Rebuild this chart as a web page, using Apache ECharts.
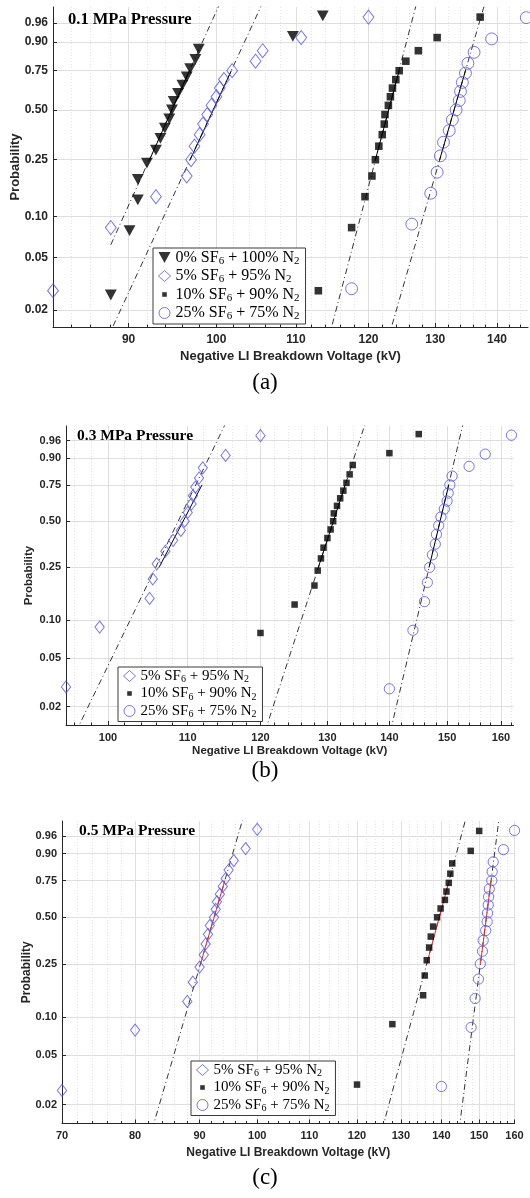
<!DOCTYPE html>
<html>
<head>
<meta charset="utf-8">
<script src="https://cdn.jsdelivr.net/npm/echarts@6/dist/echarts.min.js"></script>
<style>
  html, body { margin: 0; background: #fff; }
  #chart { width: 530px; height: 1198px; }
</style>
</head>
<body>
<div id="chart"></div>
<script>
// plotting positions
const P17 = [0.029, 0.088, 0.147, 0.206, 0.265, 0.324, 0.382, 0.441, 0.500, 0.559, 0.618, 0.676, 0.735, 0.794, 0.853, 0.912, 0.971];
const P18 = [0.028, 0.083, 0.139, 0.194, 0.250, 0.306, 0.361, 0.417, 0.472, 0.528, 0.583, 0.639, 0.694, 0.750, 0.806, 0.861, 0.917, 0.972];
const P19 = [0.026, 0.079, 0.132, 0.184, 0.237, 0.289, 0.342, 0.395, 0.447, 0.500, 0.553, 0.605, 0.658, 0.711, 0.763, 0.816, 0.868, 0.921, 0.974];
const P_TICKS = [0.02, 0.05, 0.10, 0.25, 0.50, 0.75, 0.90, 0.96];

const NAMES = ['0% SF6 + 100% N2', '5% SF6 + 95% N2', '10% SF6 + 90% N2', '25% SF6 + 75% N2'];

// (a) 0.1 MPa, breakdown voltages in kV
const A_0 = [88.1, 90.1, 91.0, 91.0, 92.0, 93.0, 93.5, 94.0, 94.5, 94.8, 95.0, 95.5, 96.0, 96.5, 96.9, 97.5, 97.9, 109.6, 113.6];
const A_5 = [82.2, 88.1, 93.0, 96.5, 97.0, 97.4, 98.0, 98.4, 98.9, 99.4, 100.0, 100.4, 100.9, 101.9, 104.8, 105.7, 110.7, 120.0];
const A_10 = [113.0, 117.6, 119.5, 120.5, 121.0, 121.5, 122.0, 122.3, 122.4, 122.9, 123.2, 123.5, 124.0, 124.5, 125.5, 127.4, 130.3, 137.2];
const A_25 = [117.6, 126.4, 129.3, 130.3, 130.8, 131.3, 132.2, 132.7, 133.3, 133.8, 134.0, 134.3, 134.8, 135.2, 136.2, 139.1, 145.0];
// fitted reference lines: [kV, prob, kV, prob]; solid part: kV at 0.25 and 0.75
const A_LINES = [[88.1, 0.062, 100.45, 0.99], [87.2, 0.01, 105.7, 0.99], [114.0, 0.01, 127.15, 0.99], [122.4, 0.01, 138.0, 0.99]];
const A_SOLID = [[92.3, 96.8], [96.9, 101.8], [121.0, 124.5], [130.7, 134.8]];

// (b) 0.3 MPa
const B_5 = [95.1, 99.0, 105.1, 105.5, 106.0, 107.1, 108.1, 109.1, 109.6, 110.0, 110.5, 110.7, 111.0, 111.5, 112.0, 115.1, 120.0];
const B_10 = [113.0, 120.0, 125.0, 128.0, 128.5, 129.0, 129.4, 130.0, 130.5, 130.9, 131.0, 131.5, 132.0, 132.5, 133.0, 133.5, 134.0, 140.0, 145.0];
const B_25 = [140.0, 144.0, 146.0, 146.5, 146.9, 147.4, 147.9, 148.1, 148.5, 148.9, 149.5, 150.0, 150.2, 150.5, 150.9, 154.0, 157.0, 162.0];
const B_LINES = [[95.6, 0.01, 115.2, 0.99], [120.1, 0.01, 136.1, 0.99], [139.7, 0.01, 152.97, 0.99]];
const B_SOLID = [[106.3, 111.9], [128.6, 132.8], [146.8, 150.3]];

// (c) 0.5 MPa
const C_5 = [70.0, 80.0, 88.0, 88.9, 90.0, 90.7, 91.0, 91.4, 91.7, 92.4, 92.7, 92.9, 93.4, 93.9, 94.4, 94.9, 95.8, 97.9, 100.0];
const C_10 = [120.0, 128.0, 135.4, 135.8, 136.3, 136.9, 137.3, 137.9, 138.9, 139.8, 140.9, 141.3, 141.9, 142.3, 142.8, 147.7, 150.0];
const C_25 = [140.0, 147.8, 148.9, 149.8, 150.3, 150.9, 151.1, 151.8, 152.2, 152.3, 152.5, 152.6, 152.8, 153.5, 153.6, 153.9, 156.8, 160.0];
const C_LINES = [[82.0, 0.01, 97.5, 0.99], [124.9, 0.01, 146.5, 0.99], [144.2, 0.01, 155.6, 0.99]];
const C_SOLID = [[90.15, 94.25], [136.3, 142.0], [150.35, 153.3]];

const A_TICKS = [90, 100, 110, 120, 130, 140];
const B_TICKS = [100, 110, 120, 130, 140, 150, 160];
const C_TICKS = [70, 80, 90, 100, 110, 120, 130, 140, 150, 160];

const BLUE = '#5656d8';
const INK = '#262626';
const SERIF = 'Liberation Serif';
const SANS = 'Liberation Sans';

// weibull probability paper
const wOf = p => Math.log(-Math.log(1 - p));
const pOf = w => 1 - Math.exp(-Math.exp(w));

function marks(s) {
  return {
    tri: {symbol: 'path://M0,0L10,0L5,9Z', symbolSize: [11 * s, 10 * s], itemStyle: {color: '#000'}},
    dia: {symbol: 'diamond', symbolSize: [10 * s, 13 * s], itemStyle: {color: 'rgba(0,0,0,0)', borderColor: BLUE, borderWidth: 1}},
    sq: {symbol: 'rect', symbolSize: 7 * s, itemStyle: {color: '#000'}},
    cir: {symbol: 'circle', symbolSize: 11 * s, itemStyle: {color: 'rgba(0,0,0,0)', borderColor: BLUE, borderWidth: 1}}
  };
}
const ICON = {
  tri: {icon: 'path://M0,0L10,0L5,9Z', itemStyle: {color: '#000', borderWidth: 0}},
  dia: {icon: 'diamond', itemStyle: {color: 'rgba(0,0,0,0)', borderColor: BLUE, borderWidth: 1}},
  sq: {icon: 'path://M0,0M12,12M3.5,3.5h5v5h-5z', itemStyle: {color: '#000', borderWidth: 0}},
  cir: {icon: 'circle', itemStyle: {color: 'rgba(0,0,0,0)', borderColor: BLUE, borderWidth: 1}}
};

const panels = [
  {
    title: '0.1 MPa Pressure', caption: '(a)', scale: 1.08,
    grid: {left: 53, top: 7, width: 475, height: 320},
    xr: [82.2, 145.3], yr: [-4.202, 1.452], ticks: A_TICKS,
    groups: [[NAMES[0], A_0, P19, 'tri'], [NAMES[1], A_5, P18, 'dia'], [NAMES[2], A_10, P18, 'sq'], [NAMES[3], A_25, P17, 'cir']],
    lines: A_LINES, solid: A_SOLID, solidColor: '#000',
    legend: {left: 153, top: 248}, legendFont: 16,
    titleTop: 11, titleLeft: 68, titleFont: 16.5, captionTop: 371,
    tickFont: 12, nameFont: 13, xNameGap: 23, yNameGap: 31
  },
  {
    title: '0.3 MPa Pressure', caption: '(b)', scale: 0.93,
    grid: {left: 66, top: 426, width: 447.5, height: 299},
    xr: [95.1, 162.4], yr: [-4.252, 1.449], ticks: B_TICKS,
    groups: [[NAMES[1], B_5, P17, 'dia'], [NAMES[2], B_10, P19, 'sq'], [NAMES[3], B_25, P18, 'cir']],
    lines: B_LINES, solid: B_SOLID, solidColor: '#000',
    legend: {left: 118, top: 667}, legendFont: 15,
    titleTop: 428, titleLeft: 77, titleFont: 15.5, captionTop: 759,
    tickFont: 11, nameFont: 11.5, xNameGap: 20, yNameGap: 31
  },
  {
    title: '0.5 MPa Pressure', caption: '(c)', scale: 0.93,
    grid: {left: 62, top: 821, width: 452.5, height: 302.5},
    xr: [70, 160], yr: [-4.261, 1.452], ticks: C_TICKS,
    groups: [[NAMES[1], C_5, P19, 'dia'], [NAMES[2], C_10, P17, 'sq'], [NAMES[3], C_25, P18, 'cir']],
    lines: C_LINES, solid: C_SOLID, solidColor: '#e03030',
    legend: {left: 191, top: 1061}, legendFont: 15,
    titleTop: 823, titleLeft: 79, titleFont: 15.5, captionTop: 1166,
    tickFont: 11, nameFont: 12, xNameGap: 23, yNameGap: 29
  }
];

const option = {
  animation: false,
  backgroundColor: '#fff',
  title: [], grid: [], xAxis: [], yAxis: [], legend: [], series: []
};

panels.forEach((pn, i) => {
  const MARK = marks(pn.scale);
  const minor = [];
  for (let v = Math.ceil(pn.xr[0] / 2) * 2; v <= pn.xr[1]; v += 2) {
    if (v % 10 !== 0) minor.push(Math.log(v));
  }
  option.grid.push(Object.assign({outerBoundsMode: 'none', containLabel: false}, pn.grid));
  option.title.push({
    text: pn.title, left: pn.titleLeft, top: pn.titleTop, padding: 0,
    textStyle: {fontFamily: SERIF, fontWeight: 'bold', fontSize: pn.titleFont, color: '#000'}
  });
  option.title.push({
    text: pn.caption, left: 'center', top: pn.captionTop, padding: 0,
    textStyle: {fontFamily: SERIF, fontWeight: 'normal', fontSize: 23, color: '#000'}
  });
  // labelled major axis
  option.xAxis.push({
    type: 'value', gridIndex: i, position: 'bottom',
    min: Math.log(pn.xr[0]), max: Math.log(pn.xr[1]),
    name: 'Negative LI Breakdown Voltage (kV)', nameLocation: 'middle', nameGap: pn.xNameGap,
    nameMoveOverlap: false,
    nameTextStyle: {fontFamily: SANS, fontWeight: 'bold', fontSize: pn.nameFont, color: INK},
    axisLine: {show: true, onZero: false, lineStyle: {color: INK, width: 1}},
    axisTick: {show: true, inside: true, length: 4, customValues: pn.ticks.map(Math.log), lineStyle: {color: INK}},
    axisLabel: {
      customValues: pn.ticks.map(Math.log), margin: 7,
      formatter: v => String(Math.round(Math.exp(v))),
      fontFamily: SANS, fontWeight: 'bold', fontSize: pn.tickFont, color: INK
    },
    splitLine: {show: true, lineStyle: {color: '#dedede', width: 1}}
  });
  // minor ticks and dotted grid
  option.xAxis.push({
    type: 'value', gridIndex: i, position: 'bottom',
    min: Math.log(pn.xr[0]), max: Math.log(pn.xr[1]),
    axisLine: {show: false, onZero: false},
    axisTick: {show: true, inside: true, length: 2.5, customValues: minor, lineStyle: {color: INK}},
    axisLabel: {show: false},
    splitLine: {show: true, lineStyle: {color: '#e2e2e2', width: 1, type: [1, 2]}}
  });
  option.yAxis.push({
    type: 'value', gridIndex: i,
    min: pn.yr[0], max: pn.yr[1],
    name: 'Probability', nameLocation: 'middle', nameGap: pn.yNameGap,
    nameMoveOverlap: false,
    nameTextStyle: {fontFamily: SANS, fontWeight: 'bold', fontSize: pn.nameFont, color: INK},
    axisLine: {show: true, onZero: false, lineStyle: {color: INK, width: 1}},
    axisTick: {show: true, inside: true, length: 4, customValues: P_TICKS.map(wOf), lineStyle: {color: INK}},
    axisLabel: {
      customValues: P_TICKS.map(wOf), margin: 5,
      formatter: w => pOf(w).toFixed(2),
      fontFamily: SANS, fontWeight: 'bold', fontSize: pn.tickFont, color: INK
    },
    splitLine: {show: true, lineStyle: {color: '#dedede', width: 1}}
  });

  pn.groups.forEach(([name, kv, probs, mark], g) => {
    option.series.push(Object.assign({
      type: 'scatter', name, xAxisIndex: 2 * i, yAxisIndex: i, z: 4,
      data: kv.map((v, k) => [Math.log(v), wOf(probs[k])])
    }, MARK[mark]));
    const ln = pn.lines[g];
    option.series.push({
      type: 'line', xAxisIndex: 2 * i, yAxisIndex: i, z: 3, silent: true, clip: true,
      symbol: 'none',
      data: [[Math.log(ln[0]), wOf(ln[1])], [Math.log(ln[2]), wOf(ln[3])]],
      lineStyle: {color: '#000', width: 0.8, type: [6, 3, 1, 3]}
    });
    const sd = pn.solid[g];
    option.series.push({
      type: 'line', xAxisIndex: 2 * i, yAxisIndex: i, z: 3, silent: true, clip: true,
      symbol: 'none',
      data: [[Math.log(sd[0]), wOf(0.25)], [Math.log(sd[1]), wOf(0.75)]],
      lineStyle: {color: pn.solidColor, width: 1, type: 'solid'}
    });
  });

  const fs = pn.legendFont;
  option.legend.push({
    orient: 'vertical', left: pn.legend.left, top: pn.legend.top,
    selectedMode: false, z: 10,
    backgroundColor: '#fff', borderColor: '#3a3a3a', borderWidth: 1,
    padding: [1, 6, 2, 5], itemGap: 1, itemWidth: 12, itemHeight: 11,
    data: pn.groups.map(([name, , , mark]) => Object.assign({name}, ICON[mark])),
    formatter: n => n.replace('SF6', 'SF{s|6}').replace('N2', 'N{s|2}'),
    textStyle: {
      fontFamily: SERIF, fontSize: fs, color: '#000', lineHeight: fs + 1,
      rich: {s: {fontFamily: SERIF, fontSize: Math.round(fs * 0.66), color: '#000', padding: [7, 0, 0, 0]}}
    }
  });
});

const chart = echarts.init(document.getElementById('chart'), null, {renderer: 'canvas'});
chart.setOption(option);
</script>
</body>
</html>
